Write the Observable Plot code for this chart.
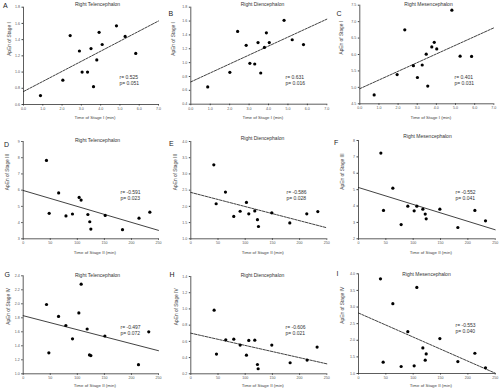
<!DOCTYPE html>
<html><head><meta charset="utf-8">
<script src="https://cdn.jsdelivr.net/npm/d3@7"></script>
<script src="https://cdn.jsdelivr.net/npm/@observablehq/plot@0.6"></script>
<style>
body{margin:0;background:#fff;}
#fig{position:relative;width:499px;height:390px;overflow:hidden;background:#fff;}
#fig svg{position:absolute;background:transparent;}
</style></head><body><div id="fig"></div>
<script>
// ---- data ----
const titles = ["Right Telencephalon", "Right Diencephalon", "Right Mesencephalon"];
const letters = ["A","B","C","D","E","F","G","H","I"];
const xLabels = ["Time of Stage I (min)", "Time of Stage II (min)", "Time of Stage II (min)"];
const yLabels = ["ApEn of Stage I", "ApEn of Stage III", "ApEn of Stage IV"];
const xTicksStageI = [0,1,2,3,4,5,6,7];
const xTicksStageII = [0,50,100,150,200,250];

const xA = [0.88,2.04,2.42,2.90,3.04,3.32,3.50,3.63,3.80,3.92,4.08,4.82,5.27,5.82];
const yA = [0.71,0.90,1.45,1.26,1.00,1.00,1.29,0.82,1.15,1.49,1.34,1.57,1.44,1.23];
const xB = [0.87,2.01,2.41,2.85,3.04,3.29,3.46,3.60,3.79,3.89,4.04,4.80,5.22,5.80];
const yB = [0.65,0.86,1.45,1.25,0.99,0.98,1.29,0.85,1.22,1.43,1.29,1.61,1.33,1.26];
const xC = [0.75,1.95,2.35,2.80,3.01,3.26,3.47,3.55,3.76,3.89,4.02,4.81,5.24,5.84];
const yC = [4.77,5.39,6.75,5.66,5.30,5.68,6.01,5.04,6.23,6.37,6.17,7.35,5.95,5.94];
const xD = [43,48,65.5,79,91,103.4,107,119.5,123,125,151.5,183.5,214,234];
const yD = [7.83,4.57,5.83,4.41,4.53,5.55,5.39,4.50,4.05,3.60,4.44,3.56,4.27,4.64];
const xE = [42.3,46.6,63.7,79,90.7,102.3,106.6,117.6,122.5,124.4,148.9,182,213.2,233.5];
const yE = [3.28,2.08,2.44,1.69,1.85,2.12,1.77,1.86,1.59,1.38,1.80,1.49,1.77,1.84];
const xF = [40.9,45.7,62.8,78,90.2,101.8,106.7,117.7,122,123.8,148.8,181.7,212.8,232.3];
const yF = [7.23,3.73,5.09,2.87,3.99,3.71,3.99,3.81,3.51,3.22,3.81,2.69,3.73,3.10];
const xG = [43.1,47.4,65.3,78.8,91.1,102.8,107.1,118.2,122.5,125,150.9,213,232];
const yG = [1.99,1.30,1.82,1.69,1.50,1.87,2.28,1.64,1.27,1.26,1.54,1.13,1.60];
const xH = [42.9,47.2,64.3,79,90.7,102.3,106.6,117.6,122.5,123.8,148.9,182.6,213.8,232.2];
const yH = [0.985,0.443,0.619,0.627,0.554,0.430,0.611,0.615,0.315,0.262,0.554,0.336,0.369,0.529];
const xI = [40.2,45.1,62.8,78,90.2,101.8,106.7,117.7,122,123.8,148.8,181.7,212.8,232.3];
const yI = [3.85,1.34,3.10,1.21,2.26,1.23,3.59,1.77,1.40,1.59,2.05,1.36,1.61,1.17];

// fitted line: value at left end and right end of x axis
const fitA = [0.76,1.63], fitB = [0.722,1.627], fitC = [4.96,6.81];
const fitD = [5.98,3.52], fitE = [2.43,1.34], fitF = [5.13,2.55];
const fitG = [1.83,1.33], fitH = [0.701,0.323], fitI = [2.82,1.01];

const statsR = ["r= 0.525","r= 0.631","r= 0.401","r= -0.591","r= -0.586","r= -0.552","r= -0.497","r= -0.606","r= -0.553"];
const statsP = ["p= 0.051","p= 0.016","p= 0.031","p= 0.023","p= 0.028","p= 0.041","p= 0.072","p= 0.021","p= 0.040"];

const yDomains = [[0.6,1.8],[0.4,1.8],[4.5,7.5],[3,9],[1,4],[2,8],[1.0,2.4],[0.2,1.4],[1,4]];
const yTickSets = [
  [0.6,0.8,1.0,1.2,1.4,1.6,1.8],
  [0.4,0.6,0.8,1.0,1.2,1.4,1.6,1.8],
  [4.5,5.0,5.5,6.0,6.5,7.0,7.5],
  [3,4,5,6,7,8,9],
  [1.0,1.5,2.0,2.5,3.0,3.5,4.0],
  [2,3,4,5,6,7,8],
  [1.0,1.2,1.4,1.6,1.8,2.0,2.2,2.4],
  [0.2,0.4,0.6,0.8,1.0,1.2,1.4],
  [1.0,1.5,2.0,2.5,3.0,3.5,4.0]
];
const yFormats = [".1f",".1f",".1f","d",".1f","d",".1f",".1f",".1f"];

// ---- layout ----
const xs = [xA,xB,xC,xD,xE,xF,xG,xH,xI];
const ys = [yA,yB,yC,yD,yE,yF,yG,yH,yI];
const fits = [fitA,fitB,fitC,fitD,fitE,fitF,fitG,fitH,fitI];
const dashed = [true,true,true,false,true,false,false,true,true];
const margins = [ // L, R, T, B
  [23,7,6.7,26],[25.3,3.7,6.7,26.3],[29.3,5.7,4.7,26.7],
  [22.7,7,11,21.7],[25.3,3.7,11,21.7],[28,4.3,10,21.7],
  [22.7,7,15.3,16.7],[25.3,3.7,16,16.7],[28,4.3,13.3,17]
];
const titlePos = [[97,3.5],[97,3.5],[98,3.5],[97,10],[97,7.5],[97,6],[97,14.5],[97,14.5],[96,14]];
const letterPos = [[2.5,5],[3,13],[6,13],[3.5,14],[3.5,13],[3.5,12],[4,14.5],[4,14.5],[6,13]];
const statPos = [[119,74],[120,74],[124,74],[120,59],[121,59],[125,59],[120,64],[120,64],[125,62]];
const yLabelX = [8.5,7.5,11,6.5,10,12,7.5,10.5,12];
const xLabelY = [117.5,117.5,117.5,122,122,122,125.5,125.5,125.5];

const fig = document.getElementById("fig");
const font = "'Liberation Sans', Arial, sans-serif";

for (let k = 0; k < 9; k++) {
  const col = k % 3, row = Math.floor(k / 3);
  const W = col === 2 ? 169 : 165, H = 130;
  const [mL, mR, mT, mB] = margins[k];
  const xDomain = row === 0 ? [0,7] : [0,250];
  const xTicks = row === 0 ? xTicksStageI : xTicksStageII;
  const pts = xs[k].map((v, i) => ({x: v, y: ys[k][i]}));
  const fitLine = [{x: xDomain[0], y: fits[k][0]}, {x: xDomain[1], y: fits[k][1]}];
  const frameCx = mL + (W - mL - mR) / 2;
  const bottom = H - mB;

  const plot = Plot.plot({
    width: W, height: H,
    marginLeft: mL, marginRight: mR, marginTop: mT, marginBottom: mB,
    style: {fontFamily: font, background: "transparent", overflow: "visible"},
    x: {domain: xDomain},
    y: {domain: yDomains[k]},
    marks: [
      Plot.axisX({ticks: xTicks, tickSize: 1.5, tickPadding: 1.5, fontSize: 3.6, label: null, stroke: "#444", fill: "#555"}),
      Plot.axisY({ticks: yTickSets[k], tickFormat: d3.format(yFormats[k]), tickSize: 1.5, tickPadding: 2, fontSize: 3.6, label: null, stroke: "#444", fill: "#555"}),
      Plot.ruleY([yDomains[k][0]], {stroke: "#333", strokeWidth: 0.8}),
      Plot.ruleX([xDomain[0]], {stroke: "#333", strokeWidth: 0.8}),
      Plot.line(fitLine, {x: "x", y: "y", stroke: "#111", strokeWidth: 0.8, strokeDasharray: dashed[k] ? "2.5,1.2" : null}),
      Plot.dot(pts, {x: "x", y: "y", r: 1.6, fill: "#000", stroke: "none"}),
      Plot.text([titles[col]], {frameAnchor: "top", dx: titlePos[k][0] - frameCx, dy: titlePos[k][1] - mT, fontSize: 5, fill: "#333", lineAnchor: "middle"}),
      Plot.text([letters[k]], {frameAnchor: "top-left", dx: letterPos[k][0] - mL, dy: letterPos[k][1] - mT, fontSize: 7, fill: "#222", textAnchor: "start", lineAnchor: "middle"}),
      Plot.text([statsR[k] + "\n" + statsP[k]], {frameAnchor: "top-left", dx: statPos[k][0] - mL, dy: statPos[k][1] - mT, fontSize: 5, fill: "#333", textAnchor: "start", lineAnchor: "top", lineHeight: 1.25}),
      Plot.text([yLabels[row]], {frameAnchor: "left", dx: yLabelX[k] - mL, rotate: -90, fontSize: 4.8, fill: "#444"}),
      Plot.text([xLabels[row]], {frameAnchor: "bottom", dy: xLabelY[k] - bottom, dx: 4, fontSize: 4.4, fill: "#444", lineAnchor: "middle"})
    ]
  });
  plot.style.left = (col * 165) + "px";
  plot.style.top = (row * 130) + "px";
  fig.appendChild(plot);
}
</script></body></html>
